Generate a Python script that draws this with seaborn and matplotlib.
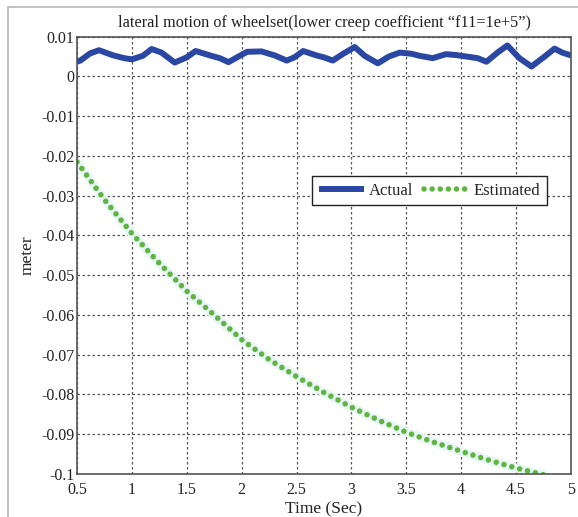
import numpy as np
import pandas as pd
import matplotlib
matplotlib.use("Agg")
import matplotlib.pyplot as plt
import seaborn as sns
from matplotlib.patches import Rectangle

# ---- data ----
actual_t = [0.50, 0.53, 0.62, 0.70, 0.83, 0.93, 1.00, 1.10, 1.18, 1.27, 1.39, 1.50,
            1.58, 1.71, 1.80, 1.88, 1.97, 2.05, 2.18, 2.30, 2.41, 2.48, 2.56, 2.68,
            2.75, 2.83, 2.93, 3.03, 3.12, 3.24, 3.34, 3.44, 3.55, 3.62, 3.74, 3.86,
            3.95, 4.05, 4.15, 4.23, 4.33, 4.42, 4.53, 4.64, 4.75, 4.85, 4.92, 5.00]
actual_y = [0.0037, 0.0040, 0.0058, 0.0066, 0.0053, 0.0046, 0.0043, 0.0052, 0.0069, 0.0060,
            0.0035, 0.0048, 0.0064, 0.0053, 0.0046, 0.0036, 0.0050, 0.0062, 0.0063, 0.0053,
            0.0040, 0.0048, 0.0064, 0.0053, 0.0048, 0.0040, 0.0058, 0.0074, 0.0052, 0.0033,
            0.0050, 0.0060, 0.0057, 0.0052, 0.0046, 0.0056, 0.0054, 0.0050, 0.0046, 0.0037,
            0.0060, 0.0078, 0.0046, 0.0025, 0.0048, 0.0070, 0.0060, 0.0053]

est_t = [0.50, 0.75, 1.00, 1.25, 1.50, 1.75, 2.00, 2.25, 2.50, 2.75, 3.00,
         3.25, 3.50, 3.75, 4.00, 4.25, 4.50, 4.75]
est_y = [-0.0215, -0.0310, -0.0395, -0.0470, -0.0540, -0.0600, -0.0662, -0.0712,
         -0.0755, -0.0795, -0.0832, -0.0865, -0.0895, -0.0920, -0.0943, -0.0965,
         -0.0985, -0.1002]

x_ticks = [0.5, 1, 1.5, 2, 2.5, 3, 3.5, 4, 4.5, 5]
x_tick_labels = ["0.5", "1", "1.5", "2", "2.5", "3", "3.5", "4", "4.5", "5"]
y_ticks = [0.01, 0, -0.01, -0.02, -0.03, -0.04, -0.05, -0.06, -0.07, -0.08, -0.09, -0.1]
y_tick_labels = ["0.01", "0", "-0.01", "-0.02", "-0.03", "-0.04", "-0.05",
                 "-0.06", "-0.07", "-0.08", "-0.09", "-0.1"]

title = "lateral motion of wheelset(lower creep coefficient \u201cf11=1e+5\u201d)"
xlabel = "Time (Sec)"
ylabel = "meter"

df_act = pd.DataFrame({"t": actual_t, "y": actual_y})
df_est = pd.DataFrame({"t": est_t, "y": est_y})

sns.set_theme(style="white")
plt.rcParams["font.family"] = ["Liberation Serif", "DejaVu Serif"]

fig = plt.figure(figsize=(5.78, 5.17), dpi=100)
ax = fig.add_axes([77 / 578, 1 - 474 / 517, (571 - 77) / 578, (474 - 36.7) / 517])

# figure frame
fig.patches.append(Rectangle((8 / 578, -0.05), 1.2, 1 - 7 / 517 + 0.05,
                             transform=fig.transFigure, fill=False,
                             edgecolor="#b8b8b8", linewidth=1.2))

blue = "#2a48a3"
green = "#5fb53f"

sns.lineplot(data=df_act, x="t", y="y", ax=ax, color=blue, linewidth=4.3,
             label="Actual", solid_capstyle="butt")
sns.lineplot(data=df_est, x="t", y="y", ax=ax, color="#e8f6f6", linewidth=6.5,
             legend=False)
sns.lineplot(data=df_est, x="t", y="y", ax=ax, color=green, linewidth=4.0,
             label="Estimated", linestyle=(0, (0.01, 1.45)), dash_capstyle="round")

ax.set_xlim(0.5, 5)
ax.set_ylim(-0.1, 0.01)
ax.set_xticks(x_ticks)
ax.set_xticklabels(x_tick_labels)
ax.set_yticks(y_ticks)
ax.set_yticklabels(y_tick_labels)
ax.tick_params(axis="both", labelsize=11.5, colors="#222222", length=0)
ax.tick_params(axis="x", pad=6)
ax.tick_params(axis="y", pad=2)

ax.grid(True, linestyle=(0, (2, 2)), color="#555555", linewidth=0.9)
for s in ax.spines.values():
    s.set_visible(True)
    s.set_color("#555555")
    s.set_linewidth(1.2)

ax.set_title(title, fontsize=11.7, color="#222222", pad=7)
ax.set_xlabel(xlabel, fontsize=12.5, color="#222222", labelpad=2)
ax.set_ylabel(ylabel, fontsize=12.5, color="#222222", labelpad=4)

handles, labels = ax.get_legend_handles_labels()
leg = ax.legend(handles, labels, ncol=2, loc="upper right",
                bbox_to_anchor=(0.951, 0.6815), borderaxespad=0,
                fontsize=12, frameon=True, fancybox=False, framealpha=1,
                edgecolor="#222222", handlelength=2.7, handletextpad=0.3,
                columnspacing=0.6, borderpad=0.4)
leg.get_frame().set_linewidth(1.0)

fig.savefig("out.png", dpi=100)
